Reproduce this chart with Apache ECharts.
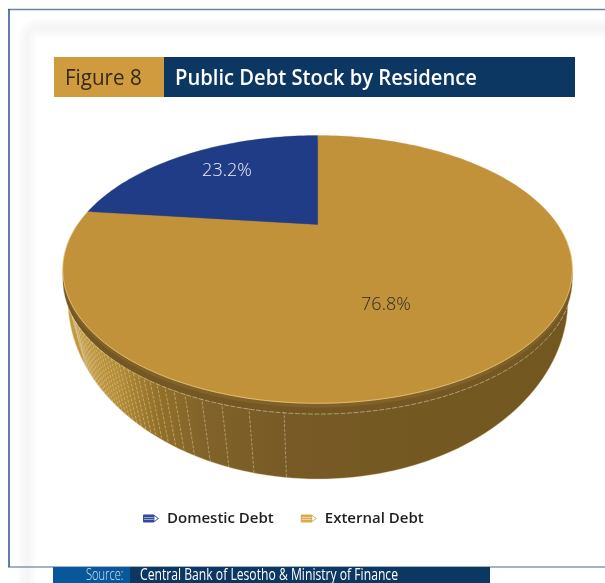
<!DOCTYPE html>
<html>
<head>
<meta charset="utf-8">
<style>html,body{margin:0;padding:0;background:#fff}#chart{width:605px;height:583px}</style>
<script src="https://cdn.jsdelivr.net/npm/echarts@6/dist/echarts.min.js"></script>
</head>
<body>
<div id="chart"></div>
<script>
// Public debt stock by residence, percent of total
const categories = ['Domestic Debt', 'External Debt'];
const shares = [23.2, 76.8];
const sliceColors = ['#213c86', '#c2923a'];
const legendColors = ['#2f4b98', '#dca84e'];
const labelColors = ['#eef0f6', '#2e2b26'];
// Label anchors on the unit disc, as [right, towards viewer]
const labelAnchors = [[-0.445, -0.53], [0.232, 0.55]];

const FONT = '"Open Sans", "Noto Sans", sans-serif';

// Tilted disc: a perspective map from the unit circle to the screen
const VIEW = { cx: 317.6, cy: 224.5, a: 240, b: 118.9, k: 0.336 };
function project(u, v, dy) {
  const w = 1 - VIEW.k * v;
  return [VIEW.cx + VIEW.a * u / w, VIEW.cy + VIEW.b * v / w + (dy || 0)];
}
// Angle runs counter-clockwise from twelve o'clock, in degrees
function rimPoint(deg, dy) {
  const t = deg * Math.PI / 180;
  return project(-Math.sin(t), -Math.cos(t), dy);
}
function arc(from, to, dy) {
  const pts = [];
  const n = Math.max(2, Math.ceil(Math.abs(to - from) / 1.5));
  for (let i = 0; i <= n; i++) pts.push(rimPoint(from + (to - from) * i / n, dy));
  return pts;
}

// Side wall outlines
const WALL = { cx: 318, cy: 300, rx: 250, ry: 179 };
const LIP = { cx: 318, cy: 277.5, rx: 254, ry: 134.5 };
function wallOutline() {
  const pts = [];
  for (let d = -90; d <= 90; d += 2) {
    const t = d * Math.PI / 180;
    pts.push([WALL.cx + WALL.rx * Math.sin(t), WALL.cy + WALL.ry * Math.cos(t)]);
  }
  return pts;
}
// Facet seams on the left of the wall, as degrees round from the front
const seamAngles = [7.7, 15.8, 22.3, 27.3, 31.7, 34.7, 37.2, 39.5, 41.6, 43.5, 45.3, 47, 48.7, 50.3,
  51.9, 53.4, 54.9, 56.4, 57.9, 59.4, 60.8, 62.2, 63.6, 65, 66.4, 67.8, 69.2, 70.6, 72, 73.4, 74.8, 76.2, 77.6, 79, 80.4, 81.8];

function wallElements() {
  const els = [];
  const wallFill = new echarts.graphic.LinearGradient(0, 0, 1, 0, [
    { offset: 0, color: '#c49b3d' }, { offset: 0.1, color: '#b58c36' },
    { offset: 0.18, color: '#937129' }, { offset: 0.28, color: '#80622a' },
    { offset: 0.44, color: '#775a25' }, { offset: 1, color: '#725720' }
  ]);
  els.push({ type: 'polygon', shape: { points: wallOutline() }, style: { fill: wallFill, stroke: 'rgba(225,205,155,0.55)', lineWidth: 0.7 } });
  const seam = { stroke: 'rgba(226,212,178,0.7)', lineWidth: 0.7, lineDash: [3, 1.5], fill: null };
  seamAngles.forEach(function (d) {
    const t = d * Math.PI / 180, s = Math.sin(t);
    const top = [LIP.cx - LIP.rx * s, LIP.cy + LIP.ry * Math.cos(t)];
    const s2 = s * 0.94;
    const bottom = [WALL.cx - WALL.rx * s2, WALL.cy + WALL.ry * Math.sqrt(1 - s2 * s2)];
    els.push({ type: 'polyline', shape: { points: [top, bottom] }, style: seam });
  });
  // Lip below the face, with its dashed lower edge
  els.push({ type: 'polygon', shape: { points: arc(0, 360, 10) }, style: { fill: '#745722' } });
  els.push({ type: 'polyline', shape: { points: arc(98, 262, 10.5) }, style: { fill: null, stroke: 'rgba(232,220,190,0.75)', lineWidth: 0.7, lineDash: [5, 1.5] } });
  els.push({ type: 'polygon', shape: { points: arc(0, 360, 4) }, style: { fill: '#806228' } });
  return els;
}

function renderSlice(params, api) {
  const i = params.seriesIndex;
  const before = shares.slice(0, i).reduce(function (s, v) { return s + v; }, 0);
  const total = shares.reduce(function (s, v) { return s + v; }, 0);
  const from = before / total * 360;
  const to = from + api.value(0) / total * 360;
  const children = i === 1 ? wallElements() : [];
  const face = [project(0, 0)].concat(arc(from, to));
  children.push({ type: 'polygon', shape: { points: face }, style: { fill: api.visual('color'), stroke: api.visual('color'), lineWidth: 0.3 } });
  if (i === 1) {
    // Light catch along the near edge of the face
    children.push({ type: 'polyline', shape: { points: arc(92, 268, -0.3) }, style: { fill: null, stroke: 'rgba(238,214,150,0.7)', lineWidth: 0.9 } });
  }
  const at = project(labelAnchors[i][0], labelAnchors[i][1]);
  children.push({
    type: 'text', z2: 10,
    style: { x: at[0], y: at[1], text: api.value(0).toFixed(1) + '%', fill: labelColors[i], align: 'center', verticalAlign: 'middle', font: '300 18px ' + FONT }
  });
  return { type: 'group', children: children };
}

const pencil = 'path://M1 0H12V9H1Q0 9 0 7.5V1.5Q0 0 1 0ZM1 3V3.7H12V3ZM1 5.5V6.2H12V5.5ZM12 0L18 4.5L12 9ZM12.8 1.7V7.3L16.6 4.5Z';

function bannerText(x, y, text, fill, font, scaleX) {
  return { type: 'text', x: x, y: y, scaleX: scaleX, style: { text: text, fill: fill, font: font, verticalAlign: 'middle' }, z: 5 };
}

// Faint soft band inside the panel border, built from widening strokes
const hazeWidths = [3, 7, 11, 15, 19];
const haze = hazeWidths.map(function (w) {
  return { type: 'rect', z: -2, shape: { x: 27, y: 28, width: 800, height: 800, r: 10 }, style: { fill: null, stroke: 'rgba(0,0,0,0.009)', lineWidth: w } };
});

const chart = echarts.init(document.getElementById('chart'), null, { renderer: 'canvas' });
chart.setOption({
  animation: false,
  backgroundColor: '#ffffff',
  legend: {
    left: 143, top: 511, padding: 0, itemWidth: 18, itemHeight: 8, itemGap: 27, selectedMode: false,
    textStyle: { fontFamily: FONT, fontSize: 15, fontWeight: 600, color: '#231f20', padding: [0, 0, 0, 2] },
    data: categories.map(function (name, i) {
      return { name: name, icon: pencil, itemStyle: { color: legendColors[i] } };
    })
  },
  series: categories.map(function (name, i) {
    return {
      type: 'custom', name: name, coordinateSystem: 'none', renderItem: renderSlice,
      itemStyle: { color: sliceColors[i] }, data: [[shares[i]]], silent: true, z: 3 - i
    };
  }),
  graphic: { elements: haze.concat([
    // Panel border
    { type: 'line', z: 0, shape: { x1: 8, y1: 9.5, x2: 605, y2: 9.5 }, style: { stroke: '#6b87a2', lineWidth: 1.5 } },
    { type: 'line', z: 0, shape: { x1: 9, y1: 9, x2: 9, y2: 567 }, style: { stroke: '#2a5587', lineWidth: 1.5 } },
    { type: 'line', z: 0, shape: { x1: 8, y1: 567, x2: 605, y2: 567 }, style: { stroke: '#46698f', lineWidth: 1.2 } },
    // Heading band
    { type: 'rect', z: 1, shape: { x: 54, y: 57, width: 110, height: 40 }, style: { fill: '#cf9b3e' } },
    { type: 'rect', z: 1, shape: { x: 164, y: 57, width: 411, height: 40 }, style: { fill: '#0c3762' } },
    bannerText(65, 79, 'Figure 8', '#33291c', '400 21px ' + FONT, 0.98),
    bannerText(175, 79, 'Public Debt Stock by Residence', '#ffffff', '600 21px ' + FONT, 0.961),
    // Source band
    { type: 'rect', z: 1, shape: { x: 53, y: 567, width: 77, height: 16 }, style: { fill: '#07579a' } },
    { type: 'rect', z: 1, shape: { x: 130, y: 567, width: 360, height: 16 }, style: { fill: '#0c3762' } },
    bannerText(86, 575, 'Source:', '#d5e3f0', '300 17px ' + FONT, 0.653),
    bannerText(140, 575, 'Central Bank of Lesotho & Ministry of Finance', '#ffffff', '400 17px ' + FONT, 0.715)
  ]) }
});
</script>
</body>
</html>
